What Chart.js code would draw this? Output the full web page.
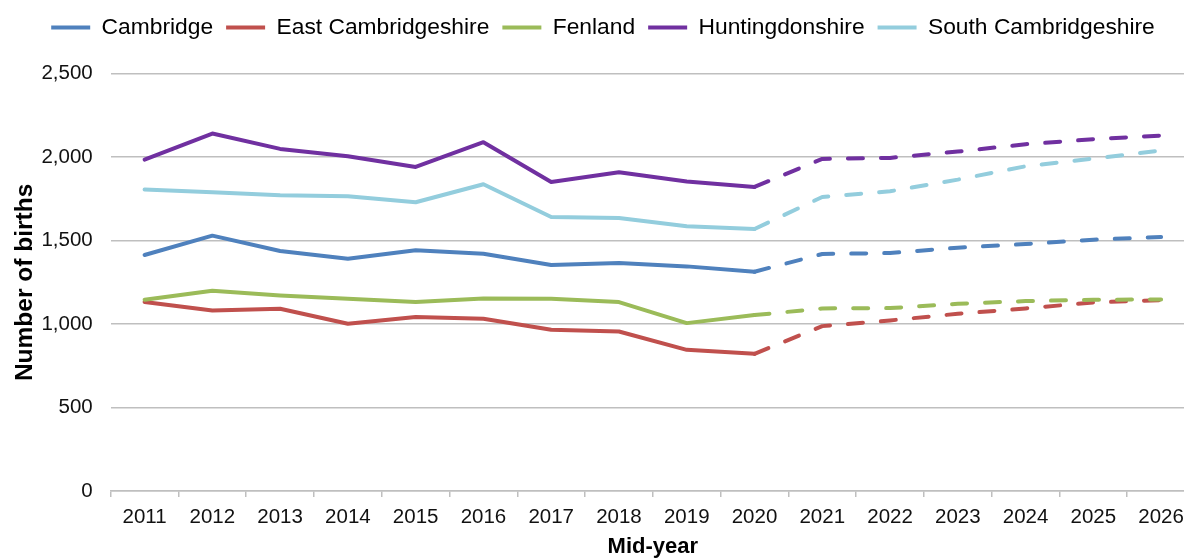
<!DOCTYPE html>
<html>
<head>
<meta charset="utf-8">
<script src="https://cdn.jsdelivr.net/npm/chart.js@4.4.1/dist/chart.umd.min.js"></script>
<style>
  html, body { margin: 0; padding: 0; background: #ffffff; overflow: hidden; }
  #wrap { position: absolute; left: 0; top: 0; width: 1195px; height: 560px; }
</style>
</head>
<body>
<div id="wrap"><canvas id="c" width="1195" height="560"></canvas></div>
<script>
const years = ["2011","2012","2013","2014","2015","2016","2017","2018","2019","2020","2021","2022","2023","2024","2025","2026"];
const cambridge = [1414,1530,1438,1392,1442,1422,1354,1366,1346,1314,1420,1426,1458,1480,1506,1522];
const eastCambs = [1132,1082,1092,1002,1042,1032,966,956,846,822,988,1022,1062,1094,1130,1144];
const fenland = [1146,1200,1172,1152,1132,1154,1152,1132,1006,1054,1094,1096,1122,1138,1146,1148];
const hunts = [1986,2142,2050,2006,1942,2090,1852,1910,1854,1822,1990,1996,2034,2078,2108,2130];
const southCambs = [1806,1790,1772,1766,1730,1838,1642,1636,1586,1570,1762,1796,1866,1946,1992,2040];
const seriesNames = ["Cambridge","East Cambridgeshire","Fenland","Huntingdonshire","South Cambridgeshire"];
const seriesColors = ["#4F81BD","#C0504D","#9BBB59","#7030A0","#93CDDD"];
const projectionStart = 9; // index of 2020: segments after this are projections

const seriesData = [cambridge, eastCambs, fenland, hunts, southCambs];
const datasets = seriesData.map((d, i) => ({
  label: seriesNames[i],
  data: d,
  borderColor: seriesColors[i],
  backgroundColor: seriesColors[i],
  borderWidth: 4,
  pointRadius: 0,
  pointHoverRadius: 0,
  tension: 0,
  fill: false,
  borderJoinStyle: 'round',
  borderCapStyle: 'round',
  order: seriesData.length - i,
  segment: {
    borderDash: ctx => ctx.p0DataIndex >= projectionStart ? [15, 18] : undefined
  }
}));

const FONT = "'Liberation Sans', Arial, sans-serif";

const legendSpacer = {
  id: 'legendSpacer',
  beforeInit(chart) {
    const origFit = chart.legend.fit;
    chart.legend.fit = function () {
      origFit.call(this);
      this.height += 25;
    };
  }
};

new Chart(document.getElementById('c'), {
  type: 'line',
  data: { labels: years, datasets },
  plugins: [legendSpacer],
  options: {
    responsive: false,
    animation: false,
    devicePixelRatio: 1,
    layout: { padding: { top: 3, left: 11, right: 0, bottom: 0 } },
    plugins: {
      tooltip: { enabled: false },
      legend: {
        position: 'top',
        align: 'center',
        labels: {
          font: { family: FONT, size: 22.8 },
          color: '#111',
          boxWidth: 39,
          boxHeight: 4,
          padding: 13,
          generateLabels: chart => chart.data.datasets.map((ds, i) => ({
            text: ds.label,
            fillStyle: ds.borderColor,
            strokeStyle: ds.borderColor,
            lineWidth: 0,
            hidden: false,
            datasetIndex: i
          }))
        }
      }
    },
    scales: {
      x: {
        offset: true,
        grid: {
          offset: true,
          drawOnChartArea: false,
          drawTicks: true,
          tickLength: 6,
          color: '#BFBFBF',
          lineWidth: 1.5
        },
        border: { display: true, color: '#BFBFBF', width: 1.5 },
        ticks: {
          font: { family: FONT, size: 20.5 },
          color: '#111',
          padding: 8,
          maxRotation: 0,
          autoSkip: false
        },
        title: {
          display: true,
          text: 'Mid-year',
          font: { family: FONT, size: 22, weight: 'bold' },
          color: '#000',
          padding: { top: 0, bottom: 0 }
        },
        afterFit: s => { s.height = 69; }
      },
      y: {
        min: 0,
        max: 2500,
        grid: {
          drawTicks: false,
          color: '#BFBFBF',
          lineWidth: 1.5
        },
        border: { display: false },
        ticks: {
          stepSize: 500,
          font: { family: FONT, size: 20.5 },
          color: '#111',
          padding: 18,
          callback: v => v.toLocaleString('en-GB')
        },
        title: {
          display: true,
          text: 'Number of births',
          font: { family: FONT, size: 24.5, weight: 'bold' },
          color: '#000',
          padding: { top: 0, bottom: 4 }
        },
        afterFit: s => { s.width = 99.7; }
      }
    }
  }
});
</script>
</body>
</html>
